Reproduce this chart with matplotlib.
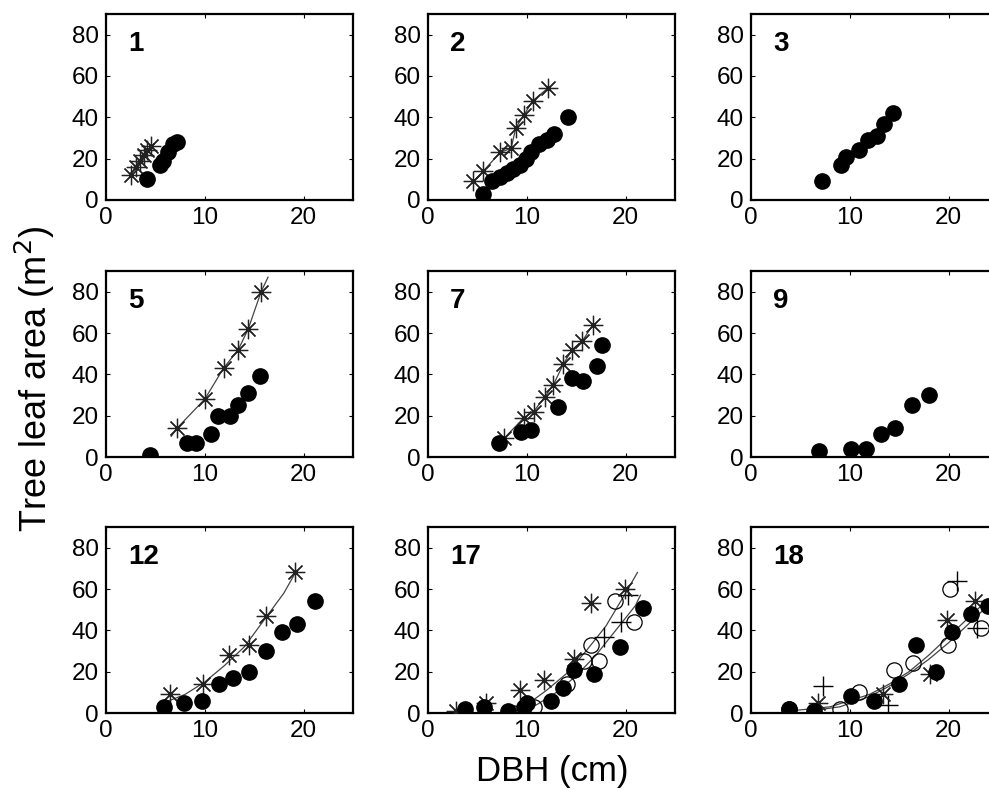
import matplotlib
matplotlib.use('Agg')
import matplotlib.pyplot as plt

plt.rcParams['font.family'] = ['Liberation Sans', 'DejaVu Sans']

# panel ids (plots)
panel_ids = ['1', '2', '3', '5', '7', '9', '12', '17', '18']

# filled circles: measured trees (dbh cm, leaf area m2)
p1_dot_x = [4.2, 5.5, 5.8, 6.3, 6.8, 7.2]
p1_dot_y = [10, 17, 19, 23, 27, 28]
p1_ast_x = [2.5, 3.0, 3.4, 3.8, 4.2, 4.6]
p1_ast_y = [12, 16, 19, 22, 24, 26]

p2_dot_x = [5.6, 6.5, 7.3, 8.0, 8.6, 9.3, 9.9, 10.4, 11.2, 12.0, 12.8, 14.2]
p2_dot_y = [3, 9, 11, 13, 15, 17, 20, 23, 27, 29, 32, 40]
p2_ast_x = [4.6, 5.6, 7.3, 8.4, 8.9, 9.7, 10.6, 12.1]
p2_ast_y = [9, 14, 23, 25, 35, 41, 48, 54]

p3_dot_x = [7.2, 9.1, 9.6, 10.9, 11.8, 12.8, 13.5, 14.4]
p3_dot_y = [9, 17, 21, 24, 29, 31, 37, 42]

p5_dot_x = [4.5, 8.2, 9.1, 10.6, 11.3, 12.5, 13.4, 14.4, 15.6]
p5_dot_y = [1, 7, 7, 11, 20, 20, 25, 31, 39]
p5_ast_x = [7.2, 10.0, 11.9, 13.4, 14.4, 15.7]
p5_ast_y = [14, 28, 43, 52, 62, 80]
p5_fit_x = [6.6, 7.2, 10.0, 11.9, 13.4, 14.4, 15.7, 16.4]
p5_fit_y = [10, 14, 28, 43, 52, 62, 80, 87]

p7_dot_x = [7.2, 9.4, 10.4, 13.2, 14.6, 15.7, 17.1, 17.6]
p7_dot_y = [7, 12, 13, 24, 38, 37, 44, 54]
p7_ast_x = [7.7, 9.7, 10.7, 11.8, 12.7, 13.7, 14.6, 15.6, 16.7]
p7_ast_y = [9, 19, 22, 29, 35, 45, 52, 56, 64]

p9_dot_x = [6.9, 10.1, 11.6, 13.2, 14.6, 16.3, 18.0]
p9_dot_y = [3, 4, 4, 11, 14, 25, 30]

p12_dot_x = [5.9, 7.9, 9.7, 11.4, 12.9, 14.5, 16.2, 17.8, 19.3, 21.2]
p12_dot_y = [3, 5, 6, 14, 17, 20, 30, 39, 43, 54]
p12_ast_x = [6.5, 9.8, 12.4, 14.5, 16.2, 19.1]
p12_ast_y = [9, 14, 28, 33, 47, 68]
p12_fit_x = [5.9, 8.0, 10.0, 12.0, 14.0, 16.0, 18.0, 19.3]
p12_fit_y = [5, 9, 15, 23, 32, 45, 58, 69]

p17_dot_x = [3.7, 5.7, 8.1, 9.7, 10.0, 12.4, 13.7, 14.8, 16.8, 19.4, 21.8]
p17_dot_y = [2, 3, 1, 3, 5, 6, 12, 21, 19, 32, 51]
p17_ring_x = [8.6, 10.7, 14.1, 15.8, 16.5, 17.3, 18.9, 20.9]
p17_ring_y = [0, 3, 14, 25, 33, 25, 54, 44]
p17_ast_x = [2.8, 5.9, 9.3, 11.7, 14.8, 16.5, 19.9]
p17_ast_y = [1, 5, 11, 16, 26, 53, 60]
p17_plus_x = [17.8, 19.5, 20.2]
p17_plus_y = [37, 44, 57]
p17_fit_x = [8.5, 10, 12, 14, 16, 18, 20, 21.2]
p17_fit_y = [0, 4, 11, 19, 30, 42, 58, 68]
p17_fit2_x = [9, 11, 13, 15, 17, 19, 21, 21.5]
p17_fit2_y = [0, 4, 10, 18, 28, 40, 52, 57]

p18_dot_x = [3.8, 6.4, 10.1, 12.4, 15.0, 16.7, 18.7, 20.3, 22.3, 24.0]
p18_dot_y = [2, 1, 8, 6, 14, 33, 20, 39, 48, 52]
p18_ring_x = [3.8, 9.0, 10.9, 14.5, 16.4, 19.9, 20.1, 23.3]
p18_ring_y = [2, 2, 10, 21, 24, 33, 60, 41]
p18_ast_x = [6.8, 13.4, 18.1, 19.8, 22.7]
p18_ast_y = [5, 9, 19, 45, 54]
p18_plus_x = [7.3, 13.9, 20.8, 22.9]
p18_plus_y = [13, 4, 64, 41]
p18_fit_x = [4, 8, 10, 12, 14, 16, 18, 20, 22, 24]
p18_fit_y = [1, 3, 6, 9, 14, 20, 28, 37, 46, 55]
p18_fit2_x = [6, 9, 12, 14, 16, 18, 20, 22, 24]
p18_fit2_y = [1, 3, 8, 13, 19, 26, 34, 43, 52]

panels = {
    '1': dict(dot=(p1_dot_x, p1_dot_y), ast=(p1_ast_x, p1_ast_y), fits=[(p1_ast_x, p1_ast_y)]),
    '2': dict(dot=(p2_dot_x, p2_dot_y), ast=(p2_ast_x, p2_ast_y), fits=[(p2_ast_x, p2_ast_y)]),
    '3': dict(dot=(p3_dot_x, p3_dot_y)),
    '5': dict(dot=(p5_dot_x, p5_dot_y), ast=(p5_ast_x, p5_ast_y), fits=[(p5_fit_x, p5_fit_y)]),
    '7': dict(dot=(p7_dot_x, p7_dot_y), ast=(p7_ast_x, p7_ast_y), fits=[(p7_ast_x, p7_ast_y)]),
    '9': dict(dot=(p9_dot_x, p9_dot_y)),
    '12': dict(dot=(p12_dot_x, p12_dot_y), ast=(p12_ast_x, p12_ast_y), fits=[(p12_fit_x, p12_fit_y)]),
    '17': dict(dot=(p17_dot_x, p17_dot_y), ring=(p17_ring_x, p17_ring_y), ast=(p17_ast_x, p17_ast_y),
               plus=(p17_plus_x, p17_plus_y), fits=[(p17_fit_x, p17_fit_y), (p17_fit2_x, p17_fit2_y)]),
    '18': dict(dot=(p18_dot_x, p18_dot_y), ring=(p18_ring_x, p18_ring_y), ast=(p18_ast_x, p18_ast_y),
               plus=(p18_plus_x, p18_plus_y), fits=[(p18_fit_x, p18_fit_y), (p18_fit2_x, p18_fit2_y)]),
}

W, H = 989, 790
fig = plt.figure(figsize=(W / 100, H / 100), dpi=100)

col_left = [106, 428, 751]
row_bottom = [200, 457, 713]
ax_w, ax_h = 247, 186

for i, pid in enumerate(panel_ids):
    r, c = divmod(i, 3)
    ax = fig.add_axes([col_left[c] / W, 1 - row_bottom[r] / H, ax_w / W, ax_h / H])
    p = panels[pid]
    for fx, fy in p.get('fits', []):
        ax.plot(fx, fy, '-', color='#444444', lw=0.9, zorder=2)
    if 'ring' in p:
        ax.plot(*p['ring'], 'o', mfc='none', mec='black', ms=11, mew=0.9, zorder=3)
    if 'plus' in p:
        ax.plot(*p['plus'], '+', color='black', ms=14, mew=1.0, zorder=3)
    if 'ast' in p:
        ax.plot(*p['ast'], ls='none', marker=(8, 2, 0), color='#222222', ms=14, mew=0.9, zorder=4)
    ax.plot(*p['dot'], 'o', color='black', ms=11, zorder=5)

    ax.set_xlim(0, 25)
    ax.set_ylim(0, 90)
    ax.set_xticks([0, 10, 20])
    ax.set_yticks([0, 20, 40, 60, 80])
    ax.tick_params(direction='in', top=True, right=True, length=3, width=0.8,
                   labelsize=17.5, pad=5)
    for s in ax.spines.values():
        s.set_linewidth(1.6)
    ax.text(0.089, 0.80, pid, transform=ax.transAxes, fontsize=20,
            fontweight='bold', va='baseline', ha='left')

fig.text(0.035, 0.52, 'Tree leaf area (m$^2$)', rotation=90, fontsize=26,
         ha='center', va='center')
fig.text(0.558, 0.023, 'DBH (cm)', fontsize=25, ha='center', va='center')

fig.savefig('out.png', dpi=100)
